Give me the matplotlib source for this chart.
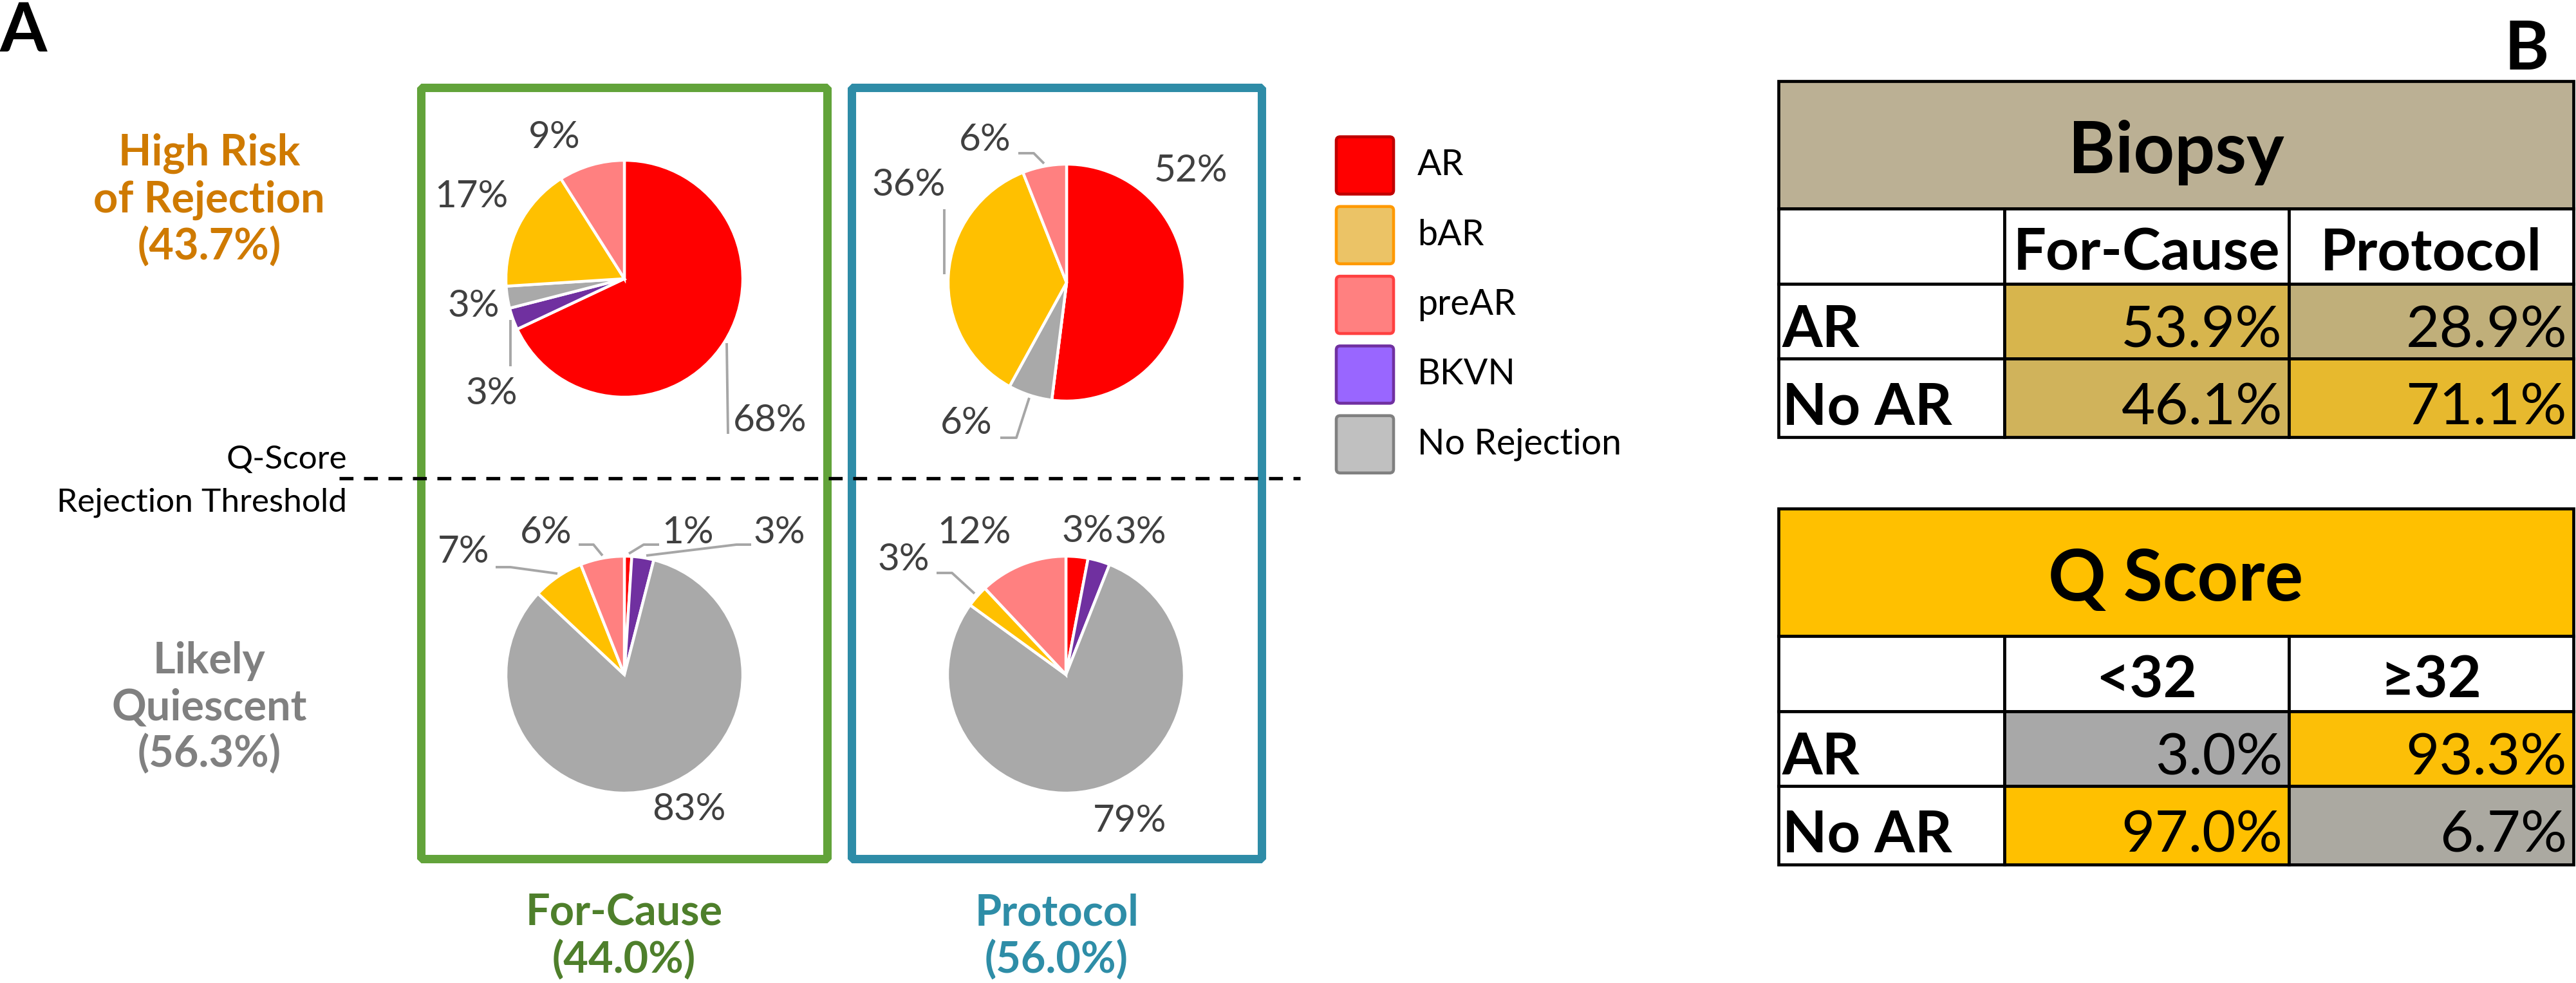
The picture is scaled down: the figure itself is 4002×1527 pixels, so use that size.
import matplotlib
matplotlib.use("Agg")
import matplotlib.pyplot as plt
from matplotlib.patches import Rectangle, FancyBboxPatch
from matplotlib.colors import LinearSegmentedColormap, Normalize

W, H = 4002, 1527
DPI = 200

plt.rcParams['font.family'] = ['Lato', 'DejaVu Sans']

# pie slices, clockwise from 12 o'clock
slice_names = ["AR", "BKVN", "No Rejection", "bAR", "preAR"]
slice_colors = ["#FF0000", "#7030A0", "#A9A9A9", "#FFC000", "#FF8080"]
for_cause_high = [68, 3, 3, 17, 9]
protocol_high = [52, 0, 6, 36, 6]
for_cause_low = [1, 3, 83, 7, 6]
protocol_low = [3, 3, 79, 3, 12]

legend_names = ["AR", "bAR", "preAR", "BKVN", "No Rejection"]
legend_faces = ["#FF0000", "#EBC366", "#FF8080", "#9966FF", "#C0C0C0"]
legend_edges = ["#C00000", "#FF9900", "#FF4040", "#7030A0", "#808080"]

group_names = ["For-Cause", "Protocol"]
group_share = [44.0, 56.0]
group_colors = ["#4E7F2B", "#2E8DA7"]
box_colors = ["#62A33A", "#2E8CA7"]

risk_names = ["High Risk\nof Rejection", "Likely\nQuiescent"]
risk_share = [43.7, 56.3]
risk_colors = ["#CF7A00", "#808080"]

biopsy_cols = ["For-Cause", "Protocol"]
biopsy_rows = ["AR", "No AR"]
biopsy_vals = [[53.9, 28.9], [46.1, 71.1]]
qscore_cols = ["<32", "≥32"]
qscore_rows = ["AR", "No AR"]
qscore_vals = [[3.0, 93.3], [97.0, 6.7]]

# ---- layout (pixel space) ----
pie_centers = [(970, 433), (1657, 439), (970, 1048), (1656, 1048)]
pie_r = 184
# label offsets from the pie centre, per slice (None = no label)
label_offsets = [
    [(226, 221), (-206, 179), (-234, 42), (-238, -128), (-109, -219)],
    [(193, -173), None, (-156, 219), (-245, -151), (-127, -221)],
    [(99, -221), (241, -221), (100, 209), (-250, -190), (-122, -221)],
    [(34, -223), (116, -221), (99, 227), (-252, -179), (-142, -221)],
]
leaders = [
    {0: [(159, 100), (161, 241)], 1: [(-177, 64), (-177, 136)]},
    {2: [(-103, 241), (-78, 241), (-58, 179)], 3: [(-190, -114), (-190, -13)],
     4: [(-75, -201), (-51, -201), (-35, -185)]},
    {0: [(7, -188), (30, -202), (54, -202)], 1: [(34, -185), (174, -202), (197, -202)],
     3: [(-200, -167), (-177, -167), (-104, -157)], 4: [(-71, -202), (-48, -202), (-34, -185)]},
    {3: [(-201, -158), (-177, -158), (-142, -126)]},
]

fig = plt.figure(figsize=(W / DPI, H / DPI), dpi=DPI)
ax = fig.add_axes([0, 0, 1, 1])

# group boxes
boxes = [(654, 1285), (1323, 1960)]
for (x0, x1), col in zip(boxes, box_colors):
    ax.add_patch(Rectangle((x0, 136), x1 - x0, 1334 - 136, fill=False,
                           edgecolor=col, linewidth=4.7, joinstyle='bevel', zorder=1))

# pies
all_pies = [for_cause_high, protocol_high, for_cause_low, protocol_low]
for vals, (cx, cy), offs, lead in zip(all_pies, pie_centers, label_offsets, leaders):
    ax.pie(vals, colors=slice_colors, startangle=-90, counterclock=True,
           center=(cx, cy), radius=pie_r, frame=True,
           wedgeprops=dict(edgecolor='white', linewidth=1.6))
    for i, v in enumerate(vals):
        if offs[i] is None:
            continue
        dx, dy = offs[i]
        ax.text(cx + dx, cy + dy, f"{v}%", ha='center', va='center',
                fontsize=21, color='#404040', zorder=5)
    for i, pts in lead.items():
        ax.plot([cx + p[0] for p in pts], [cy + p[1] for p in pts],
                color='#A6A6A6', linewidth=1.4, solid_capstyle='butt', zorder=4)

# threshold line
ax.plot([527, 2020], [743, 743], color='black', linewidth=1.9,
        dashes=(4.1, 3.1), zorder=6)
ax.text(539, 728, "Q-Score", ha='right', va='baseline', fontsize=18.5)
ax.text(539, 795, "Rejection Threshold", ha='right', va='baseline', fontsize=18.5)

# risk labels
for name, share, col, y in zip(risk_names, risk_share, risk_colors, [311, 1100]):
    ax.text(325, y, f"{name}\n({share:.1f}%)", ha='center', va='center',
            fontsize=24, fontweight='bold', color=col, linespacing=1.2)

# group labels
for name, share, col, (x0, x1) in zip(group_names, group_share, group_colors, boxes):
    xc = (x0 + x1) / 2
    ax.text(xc, 1437, name, ha='center', va='baseline', fontsize=24,
            fontweight='bold', color=col)
    ax.text(xc, 1511, f"({share:.1f}%)", ha='center', va='baseline', fontsize=24,
            fontweight='bold', color=col)

# legend
for i, (name, fc, ec) in enumerate(zip(legend_names, legend_faces, legend_edges)):
    y = 257 + i * 108.3
    ax.add_patch(FancyBboxPatch((2076, y - 44.5), 89, 89,
                                boxstyle='round,pad=0,rounding_size=6',
                                facecolor=fc, edgecolor=ec, linewidth=1.65))
    ax.text(2202, y, name, ha='left', va='center', fontsize=20)

# tables
cmap = LinearSegmentedColormap.from_list('gray_gold', ['#A8A8A8', '#FFC000'])
all_vals = [v for row in biopsy_vals + qscore_vals for v in row]
norm = Normalize(min(all_vals), max(all_vals))


def draw_table(title, head_color, cols, rows, vals, top):
    xs = [2763, 3114, 3556, 3998]
    ys = [top, top + 198, top + 315, top + 431, top + 553]
    lw = 1.7
    ax.add_patch(Rectangle((xs[0], ys[0]), xs[3] - xs[0], ys[1] - ys[0],
                           facecolor=head_color, edgecolor='black', linewidth=lw))
    ax.text((xs[0] + xs[3]) / 2, top + 143, title, ha='center', va='baseline',
            fontsize=40, fontweight='bold')
    for j in range(3):
        ax.add_patch(Rectangle((xs[j], ys[1]), xs[j + 1] - xs[j], ys[2] - ys[1],
                               facecolor='white', edgecolor='black', linewidth=lw))
    for j, c in enumerate(cols):
        ax.text((xs[j + 1] + xs[j + 2]) / 2, top + 294, c, ha='center',
                va='baseline', fontsize=32.5, fontweight='bold')
    baselines = [top + 413, top + 534]
    for r, (rname, rvals) in enumerate(zip(rows, vals)):
        y0, y1 = ys[2 + r], ys[3 + r]
        ax.add_patch(Rectangle((xs[0], y0), xs[1] - xs[0], y1 - y0,
                               facecolor='white', edgecolor='black', linewidth=lw))
        ax.text(xs[0] + 6, baselines[r], rname, ha='left', va='baseline',
                fontsize=32.5, fontweight='bold')
        for j, v in enumerate(rvals):
            ax.add_patch(Rectangle((xs[j + 1], y0), xs[j + 2] - xs[j + 1], y1 - y0,
                                   facecolor=cmap(norm(v)), edgecolor='black',
                                   linewidth=lw))
            ax.text(xs[j + 2] - 10, baselines[r], f"{v:.1f}%", ha='right',
                    va='baseline', fontsize=32.5)


draw_table("Biopsy", "#BBB094", biopsy_cols, biopsy_rows, biopsy_vals, 126)
draw_table("Q Score", "#FFC000", qscore_cols, qscore_rows, qscore_vals, 790)

# panel letters
ax.text(0, 2, "A", ha='left', va='top', fontsize=38, fontweight='bold')
ax.text(3925, 30, "B", ha='center', va='top', fontsize=38, fontweight='bold')

ax.set_xlim(0, W)
ax.set_ylim(H, 0)
ax.set_aspect('auto')
ax.axis('off')

fig.savefig("out.png", dpi=DPI)
